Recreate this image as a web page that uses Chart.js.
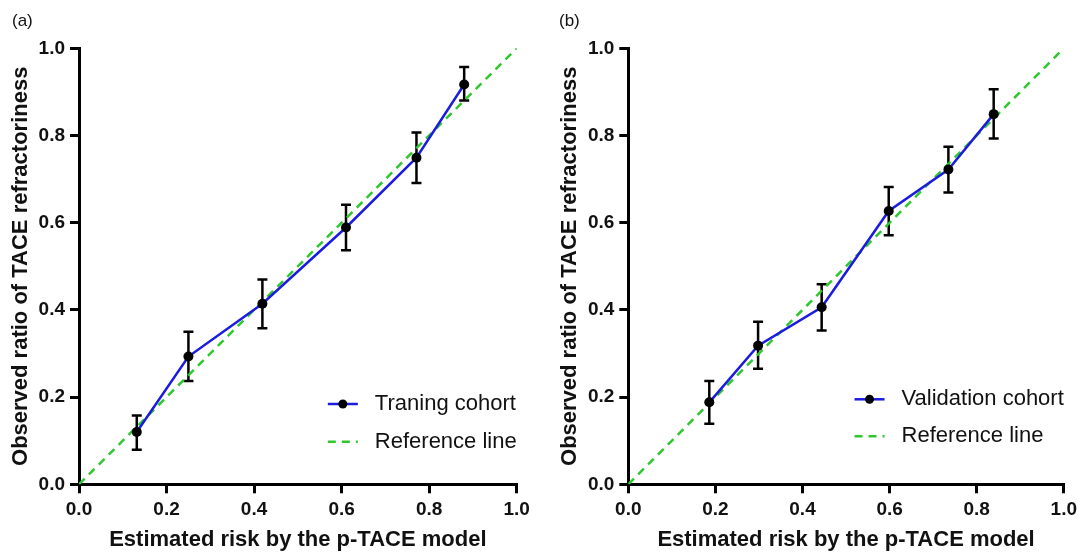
<!DOCTYPE html>
<html>
<head>
<meta charset="utf-8">
<script src="https://cdn.jsdelivr.net/npm/chart.js@4"></script>
<style>
    html, body { margin: 0; padding: 0; background: #fff; }
    body { width: 1082px; height: 557px; position: relative; overflow: hidden; font-family: "Liberation Sans", Arial, sans-serif; }
    canvas { position: absolute; top: 0; }
    .panel { position: absolute; top: 11px; font-size: 17px; color: #111; }
</style>
</head>
<body>
<canvas id="chartA" width="541" height="557" style="left:0"></canvas>
<canvas id="chartB" width="541" height="557" style="left:541px"></canvas>
<div class="panel" style="left:12px">(a)</div>
<div class="panel" style="left:559px">(b)</div>
<script>
// Data
const tickValues = [0, 0.2, 0.4, 0.6, 0.8, 1.0];
const tickLabels = ['0.0', '0.2', '0.4', '0.6', '0.8', '1.0'];
const refLine = [0, 1];

// (a) training cohort
const trainRisk = [0.132, 0.250, 0.419, 0.610, 0.771, 0.880];
const trainObs  = [0.120, 0.293, 0.414, 0.589, 0.749, 0.917];
const trainLow  = [0.079, 0.237, 0.358, 0.537, 0.691, 0.880];
const trainHigh = [0.158, 0.350, 0.470, 0.641, 0.807, 0.957];

// (b) validation cohort
const validRisk = [0.186, 0.298, 0.444, 0.598, 0.735, 0.839];
const validObs  = [0.188, 0.318, 0.406, 0.627, 0.722, 0.849];
const validLow  = [0.139, 0.265, 0.353, 0.571, 0.669, 0.793];
const validHigh = [0.237, 0.373, 0.459, 0.682, 0.774, 0.906];

const FONT = '"Liberation Sans", Arial, sans-serif';
const BLUE = '#1c1ce0';
const GREEN = '#2ec82e';

// error bars, drawn under the line and points
const errorBars = {
    id: 'errorBars',
    beforeDatasetsDraw(chart, args, opts) {
        const ctx = chart.ctx, xs = chart.scales.x, ys = chart.scales.y;
        ctx.save();
        ctx.strokeStyle = '#000';
        ctx.lineWidth = 2.5;
        opts.x.forEach((v, i) => {
            const px = xs.getPixelForValue(v);
            const top = ys.getPixelForValue(opts.high[i]);
            const bot = ys.getPixelForValue(opts.low[i]);
            ctx.beginPath();
            ctx.moveTo(px, top); ctx.lineTo(px, bot);
            ctx.moveTo(px - 5, top); ctx.lineTo(px + 5, top);
            ctx.moveTo(px - 5, bot); ctx.lineTo(px + 5, bot);
            ctx.stroke();
        });
        ctx.restore();
    }
};

// legend in the lower right of the plot area
const cornerLegend = {
    id: 'cornerLegend',
    afterDraw(chart, args, opts) {
        const ctx = chart.ctx, area = chart.chartArea;
        const ds = chart.data.datasets;
        ctx.save();
        ctx.font = '22px ' + FONT;
        ctx.textBaseline = 'middle';
        ctx.fillStyle = '#111';
        const start = area.right - Math.max(...ds.map(d => ctx.measureText(d.label).width));
        ds.forEach((d, i) => {
            const y = area.bottom - opts.rows[i];
            ctx.fillText(d.label, start, y);
            ctx.beginPath();
            ctx.strokeStyle = d.borderColor;
            ctx.lineWidth = 2.5;
            ctx.setLineDash(d.borderDash || []);
            ctx.moveTo(start - 47, y); ctx.lineTo(start - 17, y);
            ctx.stroke();
            ctx.setLineDash([]);
            if (d.pointRadius) {
                ctx.beginPath();
                ctx.fillStyle = '#000';
                ctx.arc(start - 32, y, 4.5, 0, Math.PI * 2);
                ctx.fill();
                ctx.fillStyle = '#111';
            }
        });
        ctx.restore();
    }
};

function axis(title, size, titlePad) {
    return {
        type: 'linear', min: 0, max: 1,
        afterBuildTicks: s => { s.ticks = tickValues.map(v => ({ value: v })); },
        afterFit: s => { if (s.isHorizontal()) s.height = size; else s.width = size; },
        ticks: {
            color: '#111', padding: 5,
            font: { family: FONT, size: 19, weight: 'bold' },
            callback: (v, i) => tickLabels[i]
        },
        grid: { drawOnChartArea: false, drawTicks: true, tickLength: 9, color: '#000', lineWidth: 3 },
        border: { display: true, color: '#000', width: 3 },
        title: {
            display: true, text: title, color: '#111', padding: titlePad,
            font: { family: FONT, size: 22, weight: 'bold' }
        }
    };
}

function makeChart(id, label, risk, obs, low, high, lay) {
    new Chart(document.getElementById(id), {
        type: 'scatter',
        data: {
            datasets: [
                {
                    label: label,
                    data: risk.map((x, i) => ({ x: x, y: obs[i] })),
                    showLine: true, borderColor: BLUE, borderWidth: 2.5,
                    pointRadius: 5, pointBackgroundColor: '#000', pointBorderColor: '#000',
                    pointBorderWidth: 0
                },
                {
                    label: 'Reference line',
                    data: refLine.map(v => ({ x: v, y: v })),
                    showLine: true, borderColor: GREEN, borderWidth: 2.5,
                    borderDash: [8, 6], pointRadius: 0
                }
            ]
        },
        options: {
            responsive: false, animation: false,
            layout: { padding: { left: 0, top: 48.3, right: lay.right, bottom: 0 } },
            scales: {
                x: axis('Estimated risk by the p-TACE model', 72.7, { top: 0, bottom: 3.6 }),
                y: axis('Observed ratio of TACE refractoriness', lay.yWidth, { top: lay.yTitlePad, bottom: 0 })
            },
            plugins: {
                legend: { display: false },
                tooltip: { enabled: false },
                errorBars: { x: risk, low: low, high: high },
                cornerLegend: { rows: lay.rows }
            }
        },
        plugins: [errorBars, cornerLegend]
    });
}

makeChart('chartA', 'Traning cohort', trainRisk, trainObs, trainLow, trainHigh,
    { right: 24.3, yWidth: 79, yTitlePad: 7.5, rows: [80.3, 42.6] });
makeChart('chartB', 'Validation cohort', validRisk, validObs, validLow, validHigh,
    { right: 16, yWidth: 87.3, yTitlePad: 15.8, rows: [85, 48] });
</script>
</body>
</html>
